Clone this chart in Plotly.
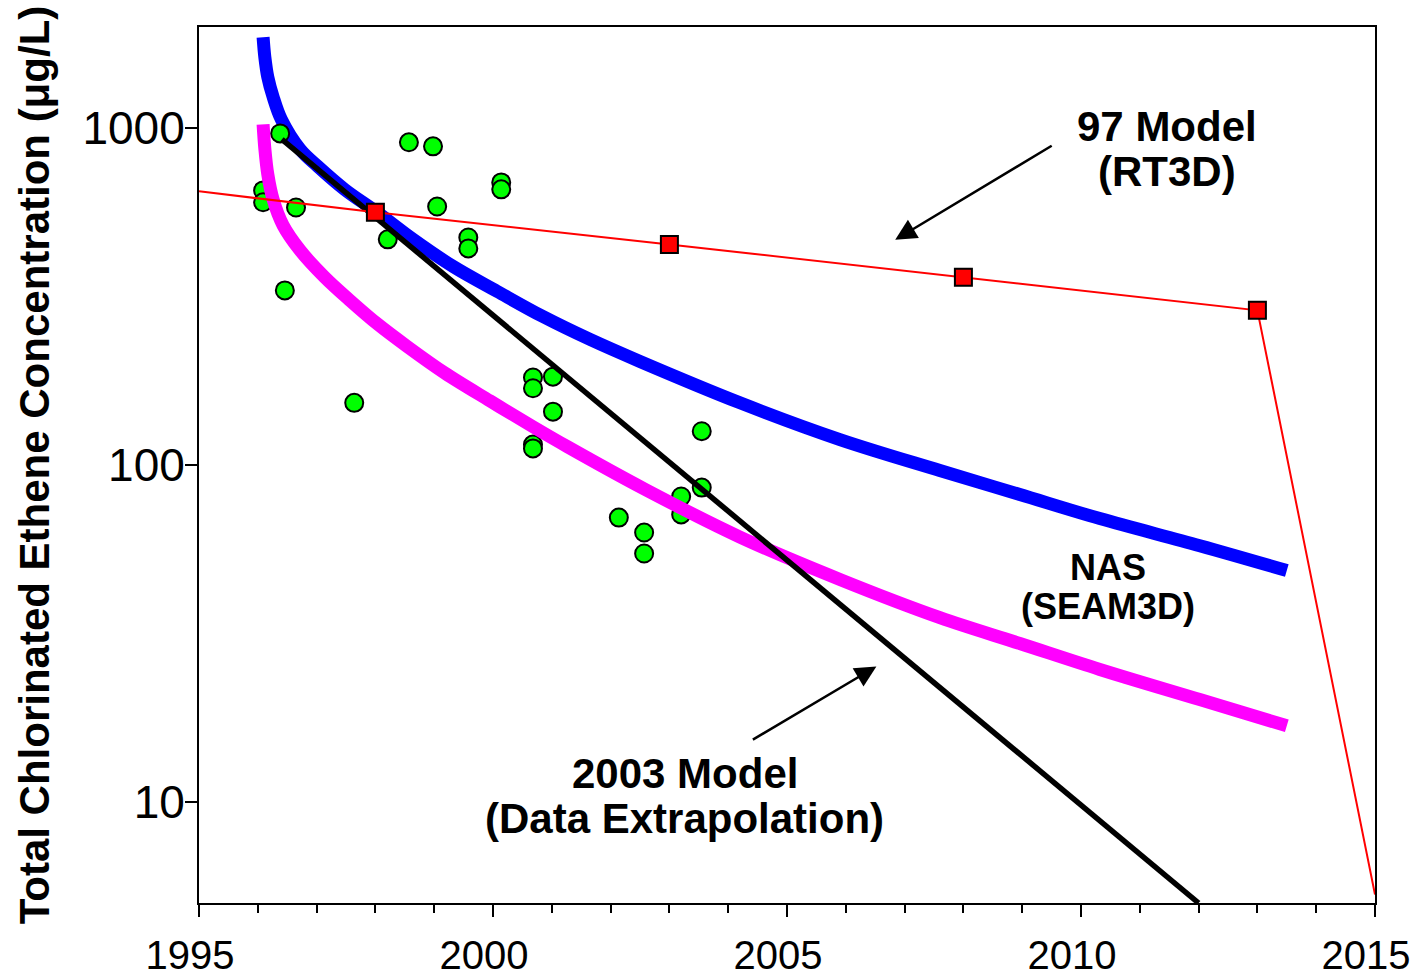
import math
import plotly.graph_objects as go

# Measured total chlorinated ethene concentrations (ug/L)
obs_year = [1996.38, 1996.09, 1996.09, 1996.65, 1996.46, 1997.64, 1998.21, 1998.57,
            1998.98, 1999.05, 1999.58, 1999.58, 2000.14, 2000.14, 2000.68, 2000.68,
            2001.02, 2001.02, 2000.68, 2000.68, 2002.14, 2002.57, 2002.57, 2003.20,
            2003.20, 2003.55, 2003.55]
obs_conc = [966, 654, 603, 582, 330, 153, 468, 909,
            884, 586, 474, 440, 691, 659, 182, 169,
            183, 144, 115, 112, 69.8, 63.0, 54.6, 80.6,
            71.3, 126, 85.7]

# 97 Model (RT3D) prediction
rt3d_year = [1995, 1998, 2003, 2008, 2013, 2015]
rt3d_conc = [650, 563, 452, 361, 288, 5.3]
rt3d_marker_year = [1998, 2003, 2008, 2013]
rt3d_marker_conc = [563, 452, 361, 288]

# 2003 Model (data extrapolation)
extrap_year = [1996.41, 2012.0]
extrap_conc = [927, 5.0]

# NAS (SEAM3D) upper simulation
nas_hi_year = [1996.09, 1996.12, 1996.17, 1996.26, 1996.40, 1996.72, 1997.02, 1997.48,
               1998.03, 1998.64, 1999.32, 2000.07, 2000.85, 2001.65, 2002.50, 2004.20,
               2005.90, 2007.60, 2008.96, 2010.32, 2012.02, 2013.50]
nas_hi_conc = [1864, 1625, 1420, 1240, 1063, 866, 771, 658,
               563, 468, 389, 328, 276, 236, 203, 153,
               119, 96.3, 81.7, 69.3, 57.6, 48.6]

# NAS (SEAM3D) lower simulation
nas_lo_year = [1996.09, 1996.12, 1996.17, 1996.26, 1996.43, 1996.72, 1997.14, 1997.57,
               1998.04, 1998.54, 1999.18, 1999.95, 2000.68, 2001.26, 2002.59, 2004.20,
               2005.90, 2007.60, 2008.96, 2010.32, 2012.02, 2013.50]
nas_lo_conc = [1028, 869, 730, 615, 515, 434, 361, 308,
               262, 225, 187.6, 155.0, 129.9, 113.5, 84.6, 61.1,
               45.7, 35.2, 29.5, 24.7, 20.1, 16.8]

x_ticks = [1995, 2000, 2005, 2010, 2015]
y_ticks = [10, 100, 1000]

FONT = "Liberation Sans, Arial, Helvetica, sans-serif"

fig = go.Figure()

fig.add_trace(go.Scatter(
    x=nas_hi_year, y=nas_hi_conc, mode="lines",
    line=dict(color="#0000ff", width=13, shape="spline", smoothing=1.0),
    showlegend=False))

fig.add_trace(go.Scatter(
    x=obs_year, y=obs_conc, mode="markers",
    marker=dict(symbol="circle", size=18, color="#00ff00",
                line=dict(color="black", width=2)),
    showlegend=False))

fig.add_trace(go.Scatter(
    x=nas_lo_year, y=nas_lo_conc, mode="lines",
    line=dict(color="#ff00ff", width=13, shape="spline", smoothing=1.0),
    showlegend=False))

fig.add_trace(go.Scatter(
    x=extrap_year, y=extrap_conc, mode="lines",
    line=dict(color="black", width=5.5),
    showlegend=False))

fig.add_trace(go.Scatter(
    x=rt3d_year, y=rt3d_conc, mode="lines",
    line=dict(color="#ff0000", width=2),
    showlegend=False))

fig.add_trace(go.Scatter(
    x=rt3d_marker_year, y=rt3d_marker_conc, mode="markers",
    marker=dict(symbol="square", size=17, color="#ff0000",
                line=dict(color="black", width=2)),
    showlegend=False))


def label(text, x, y, size):
    return dict(text=f"<b>{text}</b>", x=x, y=y, xref="paper", yref="paper",
                xanchor="center", yanchor="middle", showarrow=False,
                font=dict(family=FONT, size=size, color="black"))


annotations = [
    label("97 Model", 0.823, 0.886, 42),
    label("(RT3D)", 0.823, 0.835, 42),
    label("NAS", 0.773, 0.383, 36),
    label("(SEAM3D)", 0.773, 0.338, 36),
    label("2003 Model", 0.413, 0.148, 42),
    label("(Data Extrapolation)", 0.413, 0.096, 42),
    dict(text="", x=0.592, y=0.757, xref="paper", yref="paper",
         showarrow=True, arrowhead=2, arrowsize=1.7, arrowwidth=2.5,
         arrowcolor="black", ax=158, ay=-95),
    dict(text="", x=0.576, y=0.270, xref="paper", yref="paper",
         showarrow=True, arrowhead=2, arrowsize=1.7, arrowwidth=2.5,
         arrowcolor="black", ax=-125, ay=74),
]

fig.update_layout(
    width=1412, height=979,
    margin=dict(l=199, r=37, t=27, b=76),
    paper_bgcolor="white", plot_bgcolor="white",
    font=dict(family=FONT, color="black"),
    annotations=annotations,
    showlegend=False,
)

fig.update_xaxes(
    range=[1995, 2015], tickvals=x_ticks, ticktext=[str(v) for v in x_ticks],
    ticks="outside", ticklen=12, tickwidth=2, tickcolor="black",
    minor=dict(dtick=1, ticks="outside", ticklen=8, tickwidth=2, tickcolor="black"),
    showline=True, linewidth=2, linecolor="black", mirror=True,
    showgrid=False, zeroline=False, automargin=False,
    ticklabelshift=-9, ticklabelstandoff=4, ticklabeloverflow="allow",
    tickfont=dict(family=FONT, size=40, color="black"),
)

fig.update_yaxes(
    type="log", range=[math.log10(5), math.log10(2000)],
    tickvals=y_ticks, ticktext=[str(v) for v in y_ticks],
    ticks="outside", ticklen=12, tickwidth=2, tickcolor="black",
    showline=True, linewidth=2, linecolor="black", mirror=True,
    showgrid=False, zeroline=False, automargin=False,
    ticklabelstandoff=-9,
    tickfont=dict(family=FONT, size=46, color="black"),
    title=dict(text="<b>Total Chlorinated Ethene Concentration (\u03bcg/L)</b>",
               font=dict(family=FONT, size=42, color="black"), standoff=20),
)

fig.write_html("out.html")
